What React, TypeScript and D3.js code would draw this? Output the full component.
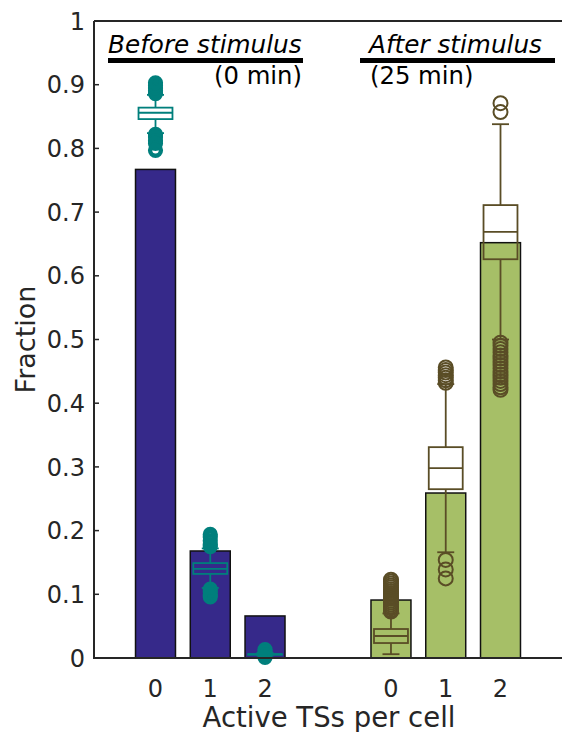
import React from "react";
import * as d3 from "d3";

const categories = ["0", "1", "2"];
const groupTitles = ["Before stimulus", "After stimulus"];
const groupSubtitles = ["(0 min)", "(25 min)"];
const groupPositions = [[0, 1, 2], [4.3, 5.3, 6.3]];

const beforeFractions = [0.767, 0.168, 0.066];
const afterFractions = [0.091, 0.259, 0.652];

// [whiskerLow, q1, median, q3, whiskerHigh]
const beforeBoxes = [
  [0.824, 0.846, 0.856, 0.864, 0.884],
  [0.11, 0.132, 0.14, 0.149, 0.172],
  [0.004, 0.005, 0.006, 0.006, 0.008],
];
const afterBoxes = [
  [0.006, 0.0235, 0.0345, 0.0455, 0.07],
  [0.166, 0.265, 0.298, 0.331, 0.43],
  [0.5, 0.626, 0.669, 0.711, 0.838],
];

const beforeOutliers = [
  [0.886, 0.891, 0.895, 0.899, 0.903, 0.822, 0.818, 0.812, 0.808, 0.797],
  [0.194, 0.19, 0.184, 0.178, 0.175, 0.108, 0.104, 0.099, 0.096],
  [0.013, 0.01, 0.005, 0.001],
];
const afterOutliers = [
  [0.123, 0.12, 0.117, 0.114, 0.111, 0.108, 0.105, 0.102, 0.099, 0.096, 0.093, 0.09, 0.087, 0.084, 0.081, 0.078, 0.075, 0.073],
  [0.456, 0.452, 0.448, 0.444, 0.44, 0.436, 0.432, 0.154, 0.139, 0.125],
  [0.871, 0.857, 0.495, 0.49, 0.485, 0.48, 0.475, 0.47, 0.465, 0.46, 0.455, 0.45, 0.445, 0.44, 0.435, 0.43, 0.425, 0.421],
];

const yTicks = [0, 0.1, 0.2, 0.3, 0.4, 0.5, 0.6, 0.7, 0.8, 0.9, 1];

const FONT = "'DejaVu Sans', sans-serif";
const AX = "#262626";

export default function App() {
  const left = 94, right = 564, top = 21, bottom = 658;
  const x = d3.scaleLinear().domain([0, 6.3]).range([155.5, 500.5]);
  const y = d3.scaleLinear().domain([0, 1]).range([bottom, top]);
  const unit = x(1) - x(0);
  const barW = 0.73 * unit;
  const boxW = 0.62 * unit;
  const capW = 0.31 * unit;

  const groups = [
    { fr: beforeFractions, boxes: beforeBoxes, outs: beforeOutliers, fill: "#36298a", stroke: "#007f7c", ow: 4.4, or: 5.4, bw: 1.8 },
    { fr: afterFractions, boxes: afterBoxes, outs: afterOutliers, fill: "#a6bf67", stroke: "#5a4d26", ow: 2, or: 7, bw: 1.8 },
  ];

  return (
    <svg width={562} height={732} style={{ position: "absolute", left: 0, top: 0, background: "#fff" }} fontFamily={FONT}>
      {groups.map((g, gi) => (
        <g key={gi}>
          {g.fr.map((v, i) => {
            const cx = x(groupPositions[gi][i]);
            return (
              <rect key={"b" + i} x={cx - barW / 2} y={y(v)} width={barW} height={y(0) - y(v)}
                fill={g.fill} stroke="#111" strokeWidth={1.5} />
            );
          })}
          {g.boxes.map((b, i) => {
            const cx = x(groupPositions[gi][i]);
            const [lo, q1, md, q3, hi] = b;
            return (
              <g key={"x" + i} stroke={g.stroke} strokeWidth={g.bw} fill="none">
                <line x1={cx} x2={cx} y1={y(q3)} y2={y(hi)} />
                <line x1={cx} x2={cx} y1={y(q1)} y2={y(lo)} />
                <line x1={cx - capW / 2} x2={cx + capW / 2} y1={y(hi)} y2={y(hi)} />
                <line x1={cx - capW / 2} x2={cx + capW / 2} y1={y(lo)} y2={y(lo)} />
                <rect x={cx - boxW / 2} y={y(q3)} width={boxW} height={Math.max(0.01, y(q1) - y(q3))} />
                <line x1={cx - boxW / 2} x2={cx + boxW / 2} y1={y(md)} y2={y(md)} />
                {g.outs[i].map((o, k) => (
                  <circle key={k} cx={cx} cy={y(o)} r={g.or} strokeWidth={g.ow} />
                ))}
              </g>
            );
          })}
        </g>
      ))}

      {/* axes */}
      <g stroke={AX} strokeWidth={2} fill="none">
        <line x1={left} x2={left} y1={top} y2={bottom + 1} />
        <line x1={left} x2={right} y1={top} y2={top} />
        <line x1={left} x2={right} y1={bottom} y2={bottom} />
      </g>
      {yTicks.map((t) => (
        <g key={t}>
          <line x1={left} x2={left + 5} y1={y(t)} y2={y(t)} stroke={AX} strokeWidth={1.5} />
          <text x={85} y={y(t)} dy="0.36em" textAnchor="end" fontSize={24} fill={AX}>
            {d3.format("~g")(t)}
          </text>
        </g>
      ))}
      {groupPositions.flat().map((p, i) => (
        <text key={i} x={x(p)} y={697} textAnchor="middle" fontSize={24} fill={AX}>
          {categories[i % 3]}
        </text>
      ))}
      <text x={x(3.15) + 1} y={727} textAnchor="middle" fontSize={27.5} fill={AX}>Active TSs per cell</text>
      <text transform={`translate(35,${y(0.5)}) rotate(-90)`} textAnchor="middle" fontSize={27} fill={AX}>Fraction</text>

      {/* group titles */}
      <text x={108} y={53} fontSize={24.7} fontStyle="italic" fill="#000">{groupTitles[0]}</text>
      <line x1={108} x2={303} y1={60.5} y2={60.5} stroke="#000" strokeWidth={5} />
      <text x={302} y={84} textAnchor="end" fontSize={24.3} fill="#000">{groupSubtitles[0]}</text>

      <text x={369} y={53} fontSize={24.7} fontStyle="italic" fill="#000">{groupTitles[1]}</text>
      <line x1={360} x2={555} y1={60.5} y2={60.5} stroke="#000" strokeWidth={5} />
      <text x={370} y={84} fontSize={24.3} fill="#000">{groupSubtitles[1]}</text>
    </svg>
  );
}
